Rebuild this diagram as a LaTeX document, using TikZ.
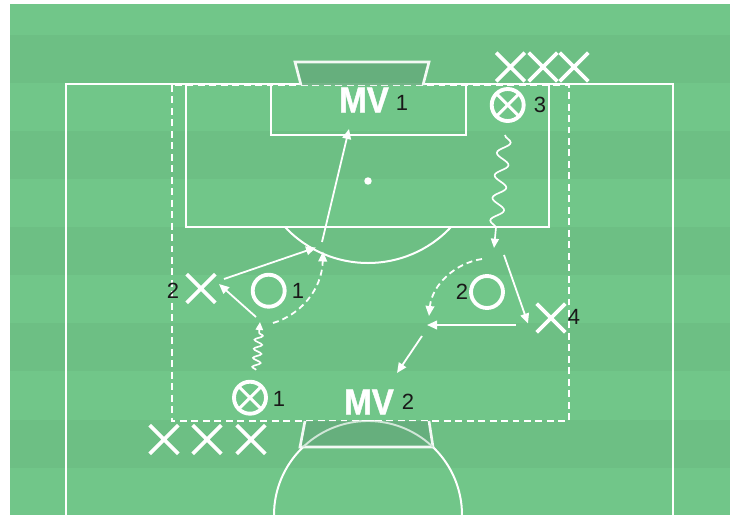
\documentclass[tikz,border=0pt]{standalone}
\usepackage{fontspec}
\setmainfont{Liberation Sans}
\newfontfamily\mvfont[UprightFont=* Bold,FakeBold=1.2,FakeStretch=0.92]{Liberation Sans}
\usetikzlibrary{arrows.meta,shapes.misc,decorations.pathmorphing}
\definecolor{grasslight}{HTML}{71C689}
\definecolor{grassdark}{HTML}{6DBF84}
\definecolor{goalfill}{HTML}{66AE7D}
\tikzset{
  x=0.75pt,y=-0.75pt,
  stripe/.style={fill=grassdark,draw=none},
  pitchthin/.style={draw=white,line width=1.15pt},
  pitchline/.style={draw=white,line width=1.5pt},
  goalshape/.style={draw=white!92!goalfill,line width=2pt,fill=goalfill,fill opacity=.9,line join=miter},
  zone/.style={draw=white,line width=1.4pt,dash pattern=on 5.2pt off 3.4pt},
  crossmark/.style={cross out,draw=white,line width=2.9pt,minimum width=21.5pt,minimum height=21.5pt,inner sep=0pt,outer sep=0pt},
  ringmark/.style={circle,draw=white,line width=2.9pt,minimum size=24pt,inner sep=0pt,outer sep=0pt},
  ballmark/.style={ringmark,path picture={
    \draw[white,line width=2.3pt] (path picture bounding box.north west) -- (path picture bounding box.south east);
    \draw[white,line width=2.3pt] (path picture bounding box.north east) -- (path picture bounding box.south west);}},
  num/.style={text=black!90,font=\fontsize{16.5}{16.5}\selectfont,inner sep=0pt},
  mv/.style={text=white,font=\fontsize{27}{27}\mvfont\selectfont,inner sep=0pt},
  pass/.style={draw=white,line width=1.35pt,-{Triangle[length=7.5pt,width=6.5pt]}},
  run/.style={draw=white,line width=1.35pt,dash pattern=on 4.5pt off 3pt,-{Triangle[length=7.5pt,width=6.5pt]}},
  dribblelong/.style={draw=white,line width=1.25pt,-{Triangle[length=7pt,width=6pt]},
    decorate,decoration={snake,segment length=17pt,amplitude=4.8pt,post=lineto,post length=9pt}},
  dribbleshort/.style={draw=white,line width=1.25pt,-{Triangle[length=6pt,width=5.5pt]},
    decorate,decoration={snake,segment length=6.8pt,amplitude=3pt,post=lineto,post length=8pt}},
}
\begin{document}
\begin{tikzpicture}
\useasboundingbox (0,0) rectangle (739,515);
% grass
\fill[grasslight] (10,4) rectangle (730,515);
\foreach \t/\b in {35/83,131/179,227/275,323/371,420/468}
  \path[stripe] (10,\t) rectangle (730,\b);
% pitch
\draw[pitchthin] (66,515) -- (66,84) -- (673,84) -- (673,515);
\draw[pitchline] (186,84) -- (186,227) -- (549,227) -- (549,84);
\draw[pitchline] (271,84) -- (271,135) -- (466,135) -- (466,84);
\draw[pitchline] (285,227) .. controls (329.9,275) and (406.1,275) .. (451,227);
\fill[white] (368,181) circle[radius=2.8pt];
\draw[pitchline] (274,515) .. controls (274,463.1) and (316.1,421) .. (368,421)
   .. controls (419.9,421) and (462,463.1) .. (462,515);
% zone
\draw[zone] (172,85) rectangle (569,421);
% goals
\path[goalshape] (301,85) -- (295,62) -- (429,62) -- (423,85);
\path[goalshape] (305,421) -- (300,447) -- (433,447) -- (429,421);
\begin{scope}
\clip (305,421) -- (300,447) -- (433,447) -- (429,421) -- cycle;
\draw[white!70!goalfill,line width=1.4pt] (274,515) .. controls (274,463.1) and (316.1,421) .. (368,421)
   .. controls (419.9,421) and (462,463.1) .. (462,515);
\end{scope}
% goalkeepers
\node[mv] (mvone) at (364,100) {MV};
\node[num] (mvonenum) at (402,103) {1};
\node[mv] (mvtwo) at (369,402) {MV};
\node[num] (mvtwonum) at (408,402) {2};
% queues
\node[crossmark] (qa) at (510.5,67) {};
\node[crossmark] (qb) at (543,67) {};
\node[crossmark] (qc) at (574,67) {};
\node[crossmark] (qd) at (164,439.5) {};
\node[crossmark] (qe) at (207,439.5) {};
\node[crossmark] (qf) at (251,439.5) {};
% players
\node[crossmark] (xtwo) at (201,288.5) {};
\node[num] (xtwonum) at (173,291) {2};
\node[crossmark] (xfour) at (551,318) {};
\node[num] (xfournum) at (574,317) {4};
\node[ringmark] (oone) at (268.7,290.7) {};
\node[num] (oonenum) at (298,291) {1};
\node[ringmark] (otwo) at (487,292) {};
\node[num] (otwonum) at (462,292) {2};
\node[ballmark] (bone) at (250,397.7) {};
\node[num] (bonenum) at (279,399) {1};
\node[ballmark] (bthree) at (507.7,105) {};
\node[num] (bthreenum) at (540,105) {3};
% connector ends
\coordinate (as) at (322,242); \coordinate (ae) at (349,129);
\coordinate (bs) at (224,279); \coordinate (be) at (316,247.5);
\coordinate (cs) at (273,323); \coordinate (ce) at (323,251.5);
\coordinate (ds) at (256,317); \coordinate (de) at (219,284);
\coordinate (es) at (256,370); \coordinate (ee) at (260,322);
\coordinate (fs) at (505,135); \coordinate (fe) at (494,248);
\coordinate (gs) at (504,255); \coordinate (ge) at (528,323.5);
\coordinate (hs) at (516,325); \coordinate (he) at (427,325);
\coordinate (is) at (422,336); \coordinate (ie) at (397,373);
\coordinate (js) at (482,259); \coordinate (je) at (429,316);
% connectors
\draw[pass] (as) -- (ae);
\draw[pass] (bs) -- (be);
\draw[run] (cs) .. controls (300,315) and (322,290) .. (ce);
\draw[pass] (ds) -- (de);
\draw[dribbleshort] (es) -- (ee);
\draw[dribblelong] (fs) -- (fe);
\draw[pass] (gs) -- (ge);
\draw[pass] (hs) -- (he);
\draw[pass] (is) -- (ie);
\draw[run] (js) .. controls (455,263) and (432,285) .. (je);
\end{tikzpicture}
\end{document}
